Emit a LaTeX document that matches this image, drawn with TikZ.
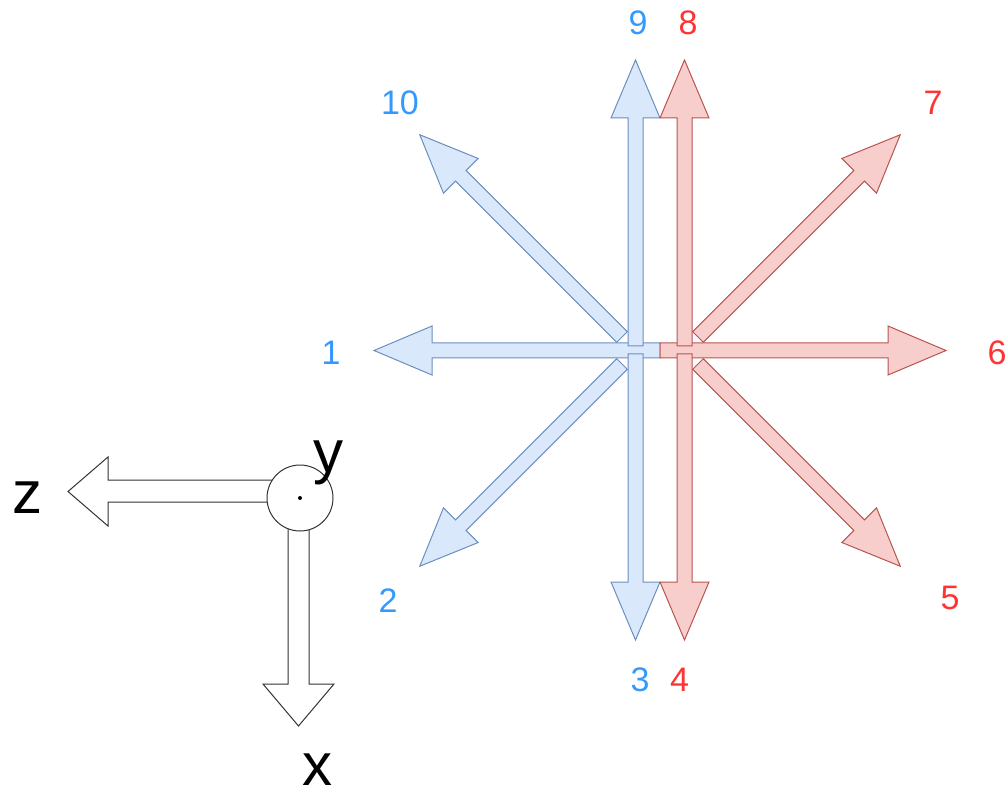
\documentclass[tikz,border=0pt]{standalone}
\usepackage{fontspec}
\setmainfont{Liberation Sans}
\definecolor{bfill}{HTML}{DAE8FC}
\definecolor{bline}{HTML}{6C8EBF}
\definecolor{rfill}{HTML}{F8CECC}
\definecolor{rline}{HTML}{B85450}
\definecolor{btext}{HTML}{3399FF}
\definecolor{rtext}{HTML}{FF3333}
% block arrow: style, start point, direction angle (length 286)
\newcommand{\blockarrow}[3]{%
  \draw[#1, shift={(#2)}, rotate=#3]
    (0,-7.5) -- (228,-7.5) -- (228,-24.5) -- (286,0) -- (228,24.5)
    -- (228,7.5) -- (0,7.5) -- cycle;}
\begin{document}
\begin{tikzpicture}[x=1pt, y=-1pt,
  bluearrow/.style={fill=bfill, draw=bline, line width=1pt, line join=miter},
  redarrow/.style={fill=rfill, draw=rline, line width=1pt, line join=miter},
  axisarrow/.style={fill=white, draw=black!80, line width=1pt},
  numlbl/.style={anchor=base, inner sep=0pt, font=\fontsize{34}{40}\selectfont},
  axislbl/.style={anchor=base, inner sep=0pt, font=\fontsize{60}{70}\selectfont}]
\useasboundingbox (0,0) rectangle (1007,794);

% diagonal arrows
\blockarrow{bluearrow}{622,337}{135}
\blockarrow{bluearrow}{622,364}{225}
\blockarrow{redarrow}{698,337}{45}
\blockarrow{redarrow}{698,364}{-45}

% horizontal arrows
\blockarrow{bluearrow}{660,350.5}{180}
\blockarrow{redarrow}{660,350.5}{0}

% vertical arrows
\blockarrow{bluearrow}{635.5,346}{90}
\blockarrow{bluearrow}{635.5,354}{-90}
\blockarrow{redarrow}{684.5,346}{90}
\blockarrow{redarrow}{684.5,354}{-90}

% direction numbers
\node[numlbl, text=btext] (n1) at (331,364) {1};
\node[numlbl, text=btext] (n2) at (388,612) {2};
\node[numlbl, text=btext] (n3) at (640,691) {3};
\node[numlbl, text=rtext] (n4) at (679.5,691) {4};
\node[numlbl, text=rtext] (n5) at (950,609) {5};
\node[numlbl, text=rtext] (n6) at (997,364) {6};
\node[numlbl, text=rtext] (n7) at (933,115) {7};
\node[numlbl, text=rtext] (n8) at (688,35) {8};
\node[numlbl, text=btext] (n9) at (638,35) {9};
\node[numlbl, text=btext] (n10) at (400,115) {10};

% coordinate axes
\draw[axisarrow] (280,480) -- (108,480) -- (108,457) -- (68,491.5)
  -- (108,526) -- (108,502) -- (280,502) -- cycle;
\draw[axisarrow] (288,510) -- (288,684) -- (263,684) -- (298.5,726)
  -- (334,684) -- (309,684) -- (309,510) -- cycle;
\node[draw=black!80, fill=white, line width=1pt, circle, minimum size=66pt,
  inner sep=0pt] (ycirc) at (300,498) {};
\fill (ycirc.center) circle (2pt);
\node[axislbl] (lz) at (27.5,513) {z};
\node[axislbl] (ly) at (328,472) {y};
\node[axislbl] (lx) at (317.5,785) {x};
\end{tikzpicture}
\end{document}
